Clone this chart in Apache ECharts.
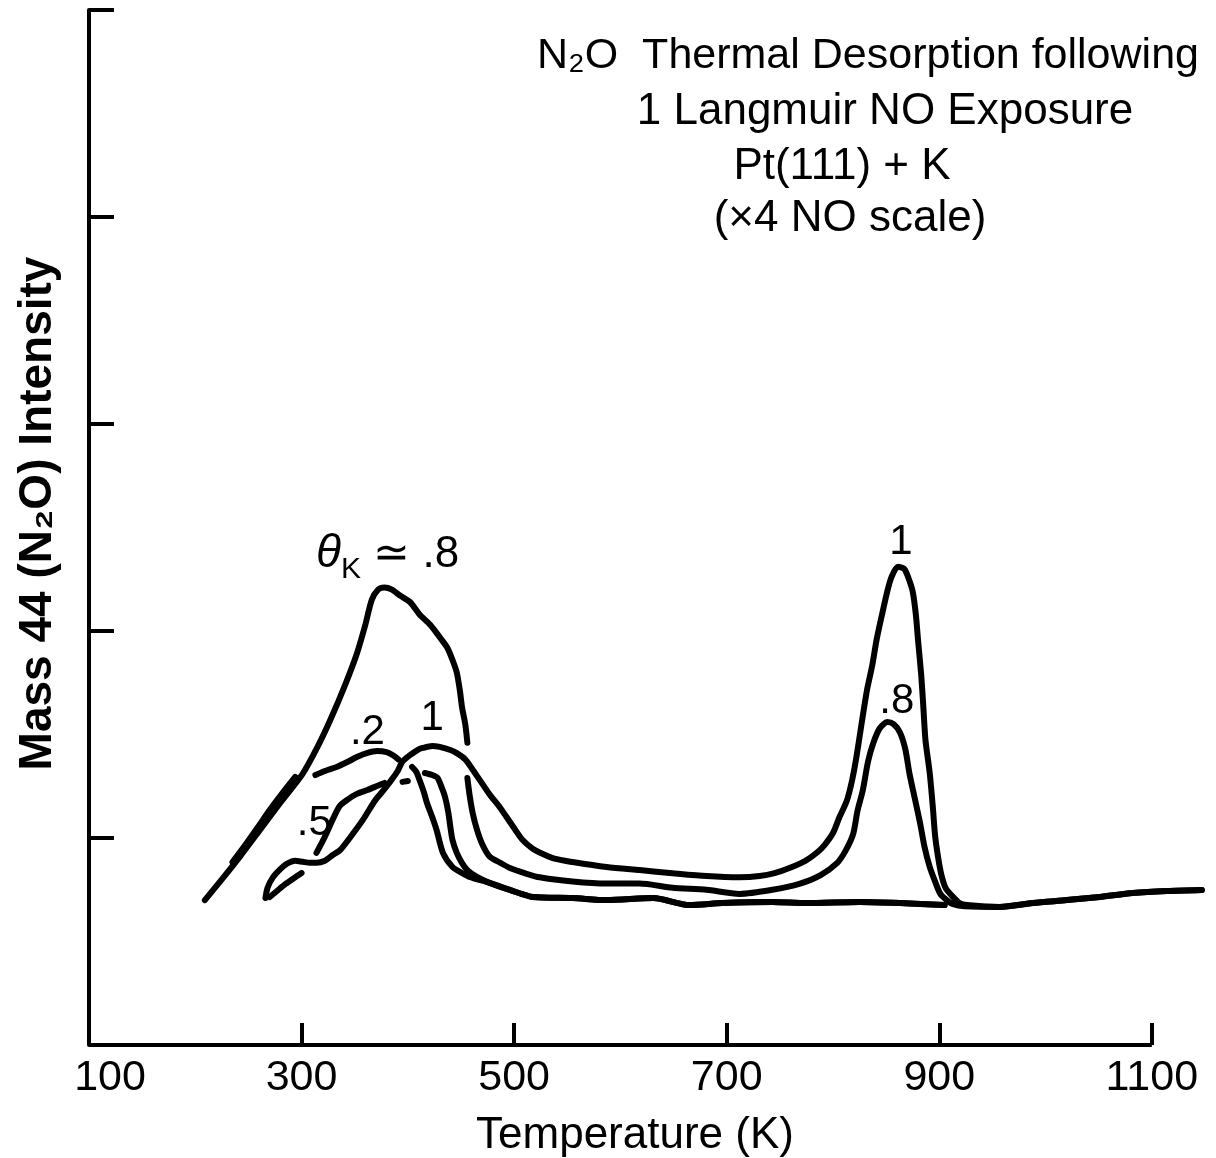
<!DOCTYPE html>
<html>
<head>
<meta charset="utf-8">
<script src="https://cdn.jsdelivr.net/npm/echarts@6/dist/echarts.min.js"></script>
<style>
html,body{margin:0;padding:0;background:#fff;}
#chart{width:1216px;height:1158px;}
</style>
</head>
<body>
<div id="chart"></div>
<script>
// ---- Data (Temperature K, relative Mass 44 intensity in y-tick units) ----
const xTickValues = [100, 300, 500, 700, 900, 1100];
const yTickValues = [0, 1, 2, 3, 4, 5];

const titleLines = [
  'N₂O  Thermal Desorption following',
  '1 Langmuir NO Exposure',
  'Pt(111) + K',
  '(×4 NO scale)'
];

// common high-temperature tail shared by the θK = .8 and θK = 1 traces
const tailHigh = [
  [957, 0.667], [988, 0.686], [1020, 0.70], [1051, 0.715],
  [1082, 0.734], [1114, 0.744], [1147, 0.749]
];

// common flat baseline shared by the θK = .2 and θK = .5 traces
const baselineLow = [
  [477, 0.783], [496, 0.749], [518, 0.715], [555, 0.71], [587, 0.70],
  [631, 0.71], [665, 0.676], [696, 0.686], [743, 0.691], [775, 0.686],
  [825, 0.691], [863, 0.686], [905, 0.676]
];

const curveK08 = [
  [209, 0.70], [225, 0.80], [242, 0.91], [261, 1.04], [280, 1.17], [301, 1.31],
  [315, 1.44], [327, 1.57], [341, 1.74], [352, 1.89], [360, 2.03], [366, 2.15],
  [372, 2.20], [378, 2.21], [385, 2.20], [393, 2.17], [402, 2.14], [411, 2.08],
  [421, 2.03], [430, 1.97], [437, 1.92], [442, 1.86], [446, 1.80], [449, 1.71],
  [451, 1.63], [454, 1.55], [456, 1.46],
  null,
  [456, 1.29], [458, 1.21], [461, 1.12], [465, 1.04], [470, 0.97], [477, 0.91],
  [487, 0.88], [496, 0.855], [510, 0.83], [524, 0.81], [555, 0.79], [587, 0.78],
  [618, 0.78], [649, 0.76], [681, 0.75], [712, 0.73], [743, 0.75], [769, 0.78],
  [788, 0.82], [804, 0.88], [812, 0.94], [819, 1.02], [823, 1.13], [828, 1.23],
  [833, 1.37], [838, 1.46], [844, 1.53], [851, 1.56], [857, 1.55], [863, 1.51],
  [868, 1.43], [872, 1.31], [877, 1.19], [882, 1.07], [886, 0.96], [891, 0.86],
  [896, 0.79], [901, 0.73], [907, 0.70], [913, 0.68], [924, 0.67]
];

const curveK1 = [
  [266, 0.71], [268, 0.76], [273, 0.81], [280, 0.85], [286, 0.875], [294, 0.89],
  [301, 0.885], [308, 0.88], [314, 0.88], [322, 0.89], [330, 0.92], [336, 0.94],
  [346, 1.005], [358, 1.09], [369, 1.18], [377, 1.23], [383, 1.27], [390, 1.32],
  [395, 1.37], [402, 1.40], [409, 1.425], [414, 1.435], [423, 1.445], [430, 1.44],
  [440, 1.425], [446, 1.41], [454, 1.38], [461, 1.33], [469, 1.27], [477, 1.21],
  [487, 1.145], [493, 1.10], [501, 1.04], [508, 0.99], [517, 0.95], [524, 0.93],
  [538, 0.90], [555, 0.884], [587, 0.86], [618, 0.845], [649, 0.83], [681, 0.816],
  [712, 0.81], [731, 0.816], [745, 0.83], [759, 0.855], [774, 0.89], [785, 0.93],
  [792, 0.966], [800, 1.024], [806, 1.10], [813, 1.18], [818, 1.28], [822, 1.39],
  [827, 1.556], [832, 1.715], [837, 1.836], [841, 1.957], [846, 2.077], [851, 2.19],
  [855, 2.26], [861, 2.31], [867, 2.30], [871, 2.256], [875, 2.19], [878, 2.077],
  [880, 1.957], [883, 1.787], [885, 1.633], [887, 1.473], [891, 1.314], [894, 1.145],
  [896, 1.014], [899, 0.903], [902, 0.821], [906, 0.758], [913, 0.715], [919, 0.686],
  [926, 0.676]
];

const curveK02 = [
  [235, 0.884], [247, 0.966], [259, 1.053], [270, 1.135], [282, 1.217], [294, 1.295],
  null,
  [313, 1.304], [322, 1.324], [333, 1.343], [343, 1.367], [352, 1.391], [362, 1.411],
  [371, 1.42], [380, 1.415], [386, 1.40], [391, 1.38],
  null,
  [404, 1.343], [408, 1.319], [411, 1.28], [415, 1.222], [418, 1.169], [423, 1.10],
  [427, 1.039], [433, 0.928], [442, 0.86], [451, 0.831], [458, 0.812]
];

const curveK05 = [
  [270, 0.715], [278, 0.749], [285, 0.778], [293, 0.807], [300, 0.831],
  null,
  [314, 0.928], [319, 0.976], [324, 1.029], [330, 1.097], [336, 1.155], [344, 1.188],
  [352, 1.213], [362, 1.232], [371, 1.251], [378, 1.266],
  null,
  [395, 1.271], [400, 1.275],
  null,
  [416, 1.314], [423, 1.304], [428, 1.29], [432, 1.242], [435, 1.198], [438, 1.126],
  [440, 1.053], [442, 0.99], [446, 0.928], [451, 0.879], [456, 0.845], [465, 0.812]
];

// coverage annotations: [T, intensity, text]
const annotations = [
  [381, 2.37, '{i|θ}{s|K}{t| ≃ .8}'],
  [362, 1.51, '.2'],
  [423, 1.58, '1'],
  [312, 1.07, '.5'],
  [864, 2.43, '1'],
  [860, 1.66, '.8']
];

const xAxisName = 'Temperature (K)';
const yAxisName = 'Mass 44 (N₂O) Intensity';

// ---- Chart ----
const FONT = '"Liberation Sans", Arial, sans-serif';
const chart = echarts.init(document.getElementById('chart'), null, {renderer: 'canvas'});

const titleX = [868, 885, 842, 850];
const titleTop = [35, 90, 145, 197];
const titleSize = [43, 44, 44, 44];

const lineSeries = (name, data) => ({
  name: name,
  type: 'line',
  data: data,
  showSymbol: false,
  symbol: 'none',
  smooth: 0.25,
  connectNulls: false,
  clip: false,
  silent: true,
  lineStyle: {color: '#000', width: 6, cap: 'round', join: 'round'}
});

const xFirst = xTickValues[0];
const xLast = xTickValues[xTickValues.length - 1];

const seriesK08 = lineSeries('θK = .8', curveK08.concat(tailHigh));
// drawn x-axis line: spans only the labelled range (the traces run past it)
seriesK08.markLine = {
  silent: true,
  symbol: ['none', 'none'],
  label: {show: false},
  lineStyle: {color: '#000', width: 4, type: 'solid'},
  data: [[{coord: [xFirst, 0]}, {coord: [xLast, 0]}]]
};

const option = {
  backgroundColor: '#fff',
  animation: false,
  title: titleLines.map((t, i) => ({
    text: t,
    left: titleX[i],
    top: titleTop[i],
    textAlign: 'center',
    padding: 0,
    textStyle: {fontFamily: FONT, fontSize: titleSize[i], fontWeight: 'normal', color: '#000'}
  })),
  grid: {left: 89, right: 11, top: 10, bottom: 113, outerBoundsMode: 'none', containLabel: false},
  xAxis: {
    type: 'value',
    min: xFirst,
    max: 1150,
    axisLine: {show: false},
    axisTick: {show: true, inside: true, length: 22, customValues: xTickValues, lineStyle: {color: '#000', width: 4}},
    splitLine: {show: false},
    axisLabel: {
      customValues: xTickValues,
      margin: 12,
      color: '#000',
      fontFamily: FONT,
      fontSize: 43,
      formatter: v => (v === xFirst ? '{f|' + v + '}' : String(v)),
      rich: {f: {fontFamily: FONT, fontSize: 43, color: '#000', padding: [0, 0, 0, 42]}}
    },
    name: xAxisName,
    nameLocation: 'middle',
    nameGap: 69,
    nameTextStyle: {fontFamily: FONT, fontSize: 44, color: '#000', padding: [0, 24, 0, 0]}
  },
  yAxis: {
    type: 'value',
    min: yTickValues[0],
    max: yTickValues[yTickValues.length - 1],
    interval: 1,
    axisLine: {show: true, onZero: false, lineStyle: {color: '#000', width: 4}},
    axisTick: {show: true, inside: true, length: 25, lineStyle: {color: '#000', width: 4}},
    axisLabel: {show: false},
    splitLine: {show: false},
    name: yAxisName,
    nameLocation: 'middle',
    nameGap: 28,
    nameRotate: 90,
    nameTextStyle: {fontFamily: FONT, fontSize: 46, fontWeight: 'bold', color: '#000', padding: [0, 0, 0, 28]}
  },
  series: [
    seriesK08,
    lineSeries('θK = 1', curveK1.concat(tailHigh)),
    lineSeries('θK = .2', curveK02.concat(baselineLow)),
    lineSeries('θK = .5', curveK05.concat(baselineLow)),
    {
      name: 'labels',
      type: 'scatter',
      data: annotations,
      symbolSize: 0,
      silent: true,
      clip: false,
      itemStyle: {color: '#000', opacity: 1},
      label: {
        show: true,
        position: 'inside',
        formatter: p => p.data[2],
        color: '#000',
        opacity: 1,
        fontFamily: FONT,
        fontSize: 42,
        rich: {
          i: {fontFamily: FONT, fontSize: 46, fontStyle: 'italic', color: '#000'},
          t: {fontFamily: FONT, fontSize: 44, color: '#000'},
          s: {fontFamily: FONT, fontSize: 30, color: '#000', padding: [30, 0, 0, 0]}
        }
      }
    }
  ]
};

chart.setOption(option);
</script>
</body>
</html>
